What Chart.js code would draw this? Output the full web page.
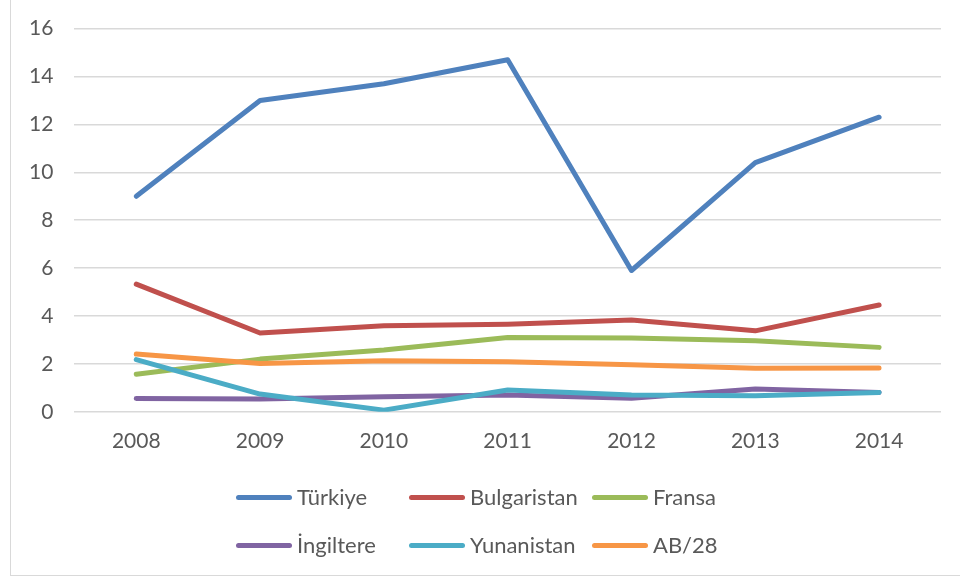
<!DOCTYPE html>
<html>
<head>
<meta charset="utf-8">
<script src="https://cdn.jsdelivr.net/npm/chart.js@4"></script>
<style>
  body { margin: 0; background: #fff; }
  #wrap { position: relative; width: 960px; height: 578px; overflow: hidden; }
  #frame { position: absolute; left: 10px; top: -2px; width: 960px; height: 578px; border: 1.5px solid #d9d9d9; box-sizing: border-box; }
  #chart { position: absolute; left: 0; top: -5px; }
  #legend { position: absolute; left: 0; top: 0; width: 960px; height: 578px; pointer-events: none; font-family: Lato, sans-serif; font-size: 22px; color: #595959; }
  .lg-line { position: absolute; width: 56px; height: 5px; border-radius: 3px; }
  .lg-text { position: absolute; line-height: 26px; white-space: nowrap; }
</style>
</head>
<body>
<div id="wrap">
  <div id="frame"></div>
  <canvas id="chart" width="960" height="583"></canvas>
  <div id="legend"></div>
</div>
<script>
// yillar ve seriler
const years = ["2008", "2009", "2010", "2011", "2012", "2013", "2014"];
const turkiye = [9.0, 13.0, 13.7, 14.7, 5.9, 10.4, 12.3];
const bulgaristan = [5.33, 3.29, 3.59, 3.66, 3.83, 3.38, 4.46];
const fransa = [1.57, 2.2, 2.58, 3.1, 3.08, 2.97, 2.69];
const ingiltere = [0.56, 0.53, 0.63, 0.7, 0.57, 0.95, 0.81];
const yunanistan = [2.18, 0.74, 0.07, 0.91, 0.7, 0.67, 0.81];
const ab28 = [2.41, 2.02, 2.13, 2.09, 1.96, 1.82, 1.83];

const seriesNames = ["Türkiye", "Bulgaristan", "Fransa", "İngiltere", "Yunanistan", "AB/28"];
const seriesData = [turkiye, bulgaristan, fransa, ingiltere, yunanistan, ab28];
const seriesColors = ["#4f81bd", "#c0504d", "#9bbb59", "#8064a2", "#4bacc6", "#f79646"];

const datasets = seriesNames.map((name, i) => ({
  label: name,
  data: seriesData[i],
  borderColor: seriesColors[i],
  backgroundColor: seriesColors[i],
  borderWidth: 5,
  borderCapStyle: "round",
  borderJoinStyle: "round",
  pointRadius: 0,
  tension: 0,
  fill: false,
  order: seriesNames.length - i   // Excel gibi: son seri ustte
}));

const ctx = document.getElementById("chart").getContext("2d");
new Chart(ctx, {
  type: "line",
  data: { labels: years, datasets: datasets },
  options: {
    responsive: false,
    animation: false,
    layout: { padding: { left: 8, top: 23, right: 19, bottom: 115 } },
    plugins: { legend: { display: false }, tooltip: { enabled: false } },
    scales: {
      x: {
        offset: true,
        grid: { display: false },
        border: { display: false },
        ticks: { color: "#595959", font: { family: "Lato", size: 21 }, padding: 9 }
      },
      y: {
        min: 0,
        max: 16,
        ticks: { stepSize: 2, color: "#595959", font: { family: "Lato", size: 21 }, padding: 21 },
        grid: { color: "#d9d9d9", lineWidth: 1.5, drawTicks: false },
        border: { display: false }
      }
    }
  }
});

// legend (Excel duzeni: 3 sutun, 2 satir)
const colX = [236, 409, 592];
const rowY = [497, 545];
const legend = document.getElementById("legend");
seriesNames.forEach((name, i) => {
  const x = colX[i % 3];
  const y = rowY[Math.floor(i / 3)];
  const line = document.createElement("div");
  line.className = "lg-line";
  line.style.left = x + "px";
  line.style.top = (y - 2.5) + "px";
  line.style.background = seriesColors[i];
  legend.appendChild(line);
  const txt = document.createElement("div");
  txt.className = "lg-text";
  txt.style.left = (x + 61) + "px";
  txt.style.top = (y - 13) + "px";
  txt.textContent = name;
  legend.appendChild(txt);
});
</script>
</body>
</html>
